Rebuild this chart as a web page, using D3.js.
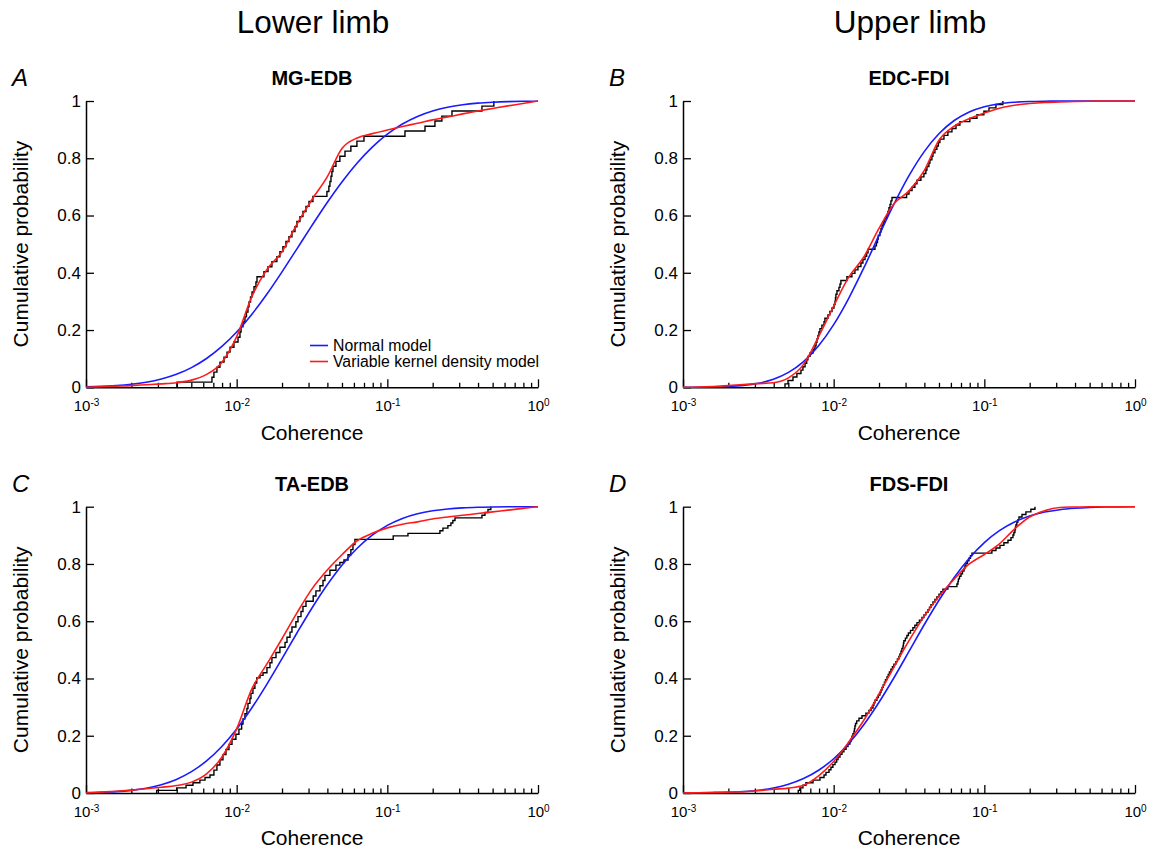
<!DOCTYPE html>
<html><head><meta charset="utf-8">
<script src="https://cdn.jsdelivr.net/npm/d3@7"></script>
<style>
body{margin:0;background:#fff}
svg text{font-family:"Liberation Sans",Arial,Helvetica,sans-serif;fill:#000}
</style>
</head><body>
<svg id="chart" width="1157" height="849"></svg>
<script>
// ---------------- DATA ----------------
const columnTitles = ["Lower limb", "Upper limb"];
const panelLetters = ["A", "B", "C", "D"];
const panelTitles = ["MG-EDB", "EDC-FDI", "TA-EDB", "FDS-FDI"];
const legendLabels = ["Normal model", "Variable kernel density model"];
const xAxisTitle = "Coherence";
const yAxisTitle = "Cumulative probability";
const probTicks = [0, 0.2, 0.4, 0.6, 0.8, 1];
const probTickLabels = ["0", "0.2", "0.4", "0.6", "0.8", "1"];
const decadeTicks = [0.001, 0.01, 0.1, 1];
const decadeExponents = ["-3", "-2", "-1", "0"];

// coherence values at which the model curves were read
const coherenceGrid = [0.001, 0.001259, 0.001585, 0.001995, 0.002512, 0.003162, 0.003981, 0.005012, 0.00631, 0.007943,
  0.01, 0.01259, 0.01585, 0.01995, 0.02512, 0.03162, 0.03981, 0.05012, 0.0631, 0.07943,
  0.1, 0.1259, 0.1585, 0.1995, 0.2512, 0.3162, 0.3981, 0.5012, 0.631, 0.7943, 1];

// Normal model (blue)
const normalMG = [0.0017,0.0032,0.0060,0.0105,0.0177,0.0289,0.0454,0.0688,0.1006,0.1418,0.1932,0.2546,0.3250,0.4024,0.4836,0.5655,0.6447,0.7181,0.7834,0.8389,0.8841,0.9196,0.9461,0.9652,0.9784,0.9870,0.9925,0.9958,0.9978,0.9989,0.9994];
const normalEDC = [0.0002,0.0004,0.0012,0.0029,0.0066,0.0142,0.0281,0.0520,0.0897,0.1448,0.2189,0.3110,0.4168,0.5295,0.6395,0.7390,0.8222,0.8863,0.9319,0.9619,0.9802,0.9904,0.9956,0.9982,0.9993,0.9997,0.9999,1,1,1,1];
const normalTA = [0.0012,0.0025,0.0049,0.0093,0.0168,0.0289,0.0474,0.0745,0.1120,0.1614,0.2233,0.2967,0.3795,0.4682,0.5588,0.6462,0.7264,0.7967,0.8547,0.9004,0.9347,0.9590,0.9753,0.9858,0.9922,0.9960,0.9980,0.9990,0.9996,0.9998,0.9999];
const normalFDS = [0.0002,0.0005,0.0012,0.0025,0.0051,0.0096,0.0176,0.0305,0.0503,0.0794,0.1196,0.1726,0.2383,0.3160,0.4026,0.4944,0.5867,0.6740,0.7530,0.8202,0.8747,0.9164,0.9467,0.9676,0.9812,0.9896,0.9945,0.9973,0.9987,0.9994,0.9997];

// Variable kernel density model (red)
const kernelMG = [0,0.002,0.004,0.006,0.009,0.012,0.016,0.025,0.045,0.086,0.177,0.316,0.411,0.473,0.570,0.656,0.734,0.835,0.871,0.886,0.899,0.911,0.922,0.934,0.944,0.955,0.965,0.974,0.983,0.991,1.0];
const kernelEDC = [0,0.001,0.003,0.006,0.010,0.013,0.016,0.033,0.080,0.177,0.284,0.385,0.455,0.554,0.641,0.686,0.756,0.864,0.912,0.938,0.958,0.975,0.985,0.991,0.995,0.997,0.998,0.999,1,1,1];
const kernelTA = [0,0.003,0.006,0.010,0.015,0.020,0.026,0.038,0.067,0.124,0.224,0.363,0.450,0.538,0.629,0.713,0.778,0.833,0.881,0.907,0.926,0.939,0.947,0.957,0.964,0.970,0.976,0.982,0.988,0.994,1.0];
const kernelFDS = [0,0.001,0.002,0.003,0.004,0.008,0.013,0.017,0.027,0.060,0.110,0.178,0.254,0.345,0.440,0.532,0.617,0.688,0.747,0.800,0.833,0.870,0.922,0.964,0.986,0.997,0.999,1,1,1,1];

// Empirical distribution (black steps): log10(coherence) of each step, and cumulative probability after it
const empMGlog = [-2.396,-2.164,-2.151,-2.131,-2.111,-2.084,-2.064,-2.044,-2.018,-1.991,-1.978,-1.971,-1.958,-1.945,-1.935,-1.925,-1.918,-1.908,-1.898,-1.885,-1.872,-1.865,-1.819,-1.792,-1.766,-1.733,-1.713,-1.693,-1.673,-1.653,-1.633,-1.613,-1.600,-1.580,-1.560,-1.540,-1.520,-1.494,-1.401,-1.388,-1.381,-1.374,-1.368,-1.361,-1.341,-1.315,-1.281,-1.242,-1.202,-1.155,-0.883,-0.750,-0.684,-0.638,-0.571,-0.372,-0.293];
const empMGp = [0.018,0.035,0.053,0.070,0.088,0.105,0.123,0.140,0.158,0.175,0.193,0.211,0.228,0.246,0.263,0.281,0.298,0.316,0.333,0.351,0.368,0.386,0.404,0.421,0.439,0.456,0.474,0.491,0.509,0.526,0.544,0.561,0.579,0.596,0.614,0.632,0.649,0.667,0.684,0.702,0.719,0.737,0.754,0.772,0.789,0.807,0.825,0.842,0.860,0.877,0.895,0.912,0.930,0.947,0.965,0.982,1.0];

const empEDClog = [-2.323,-2.303,-2.270,-2.244,-2.217,-2.204,-2.190,-2.179,-2.171,-2.157,-2.137,-2.124,-2.117,-2.111,-2.104,-2.098,-2.091,-2.078,-2.064,-2.058,-2.038,-2.025,-2.011,-1.998,-1.991,-1.988,-1.985,-1.978,-1.965,-1.958,-1.952,-1.912,-1.879,-1.859,-1.839,-1.819,-1.806,-1.792,-1.781,-1.772,-1.726,-1.716,-1.709,-1.704,-1.693,-1.686,-1.679,-1.671,-1.660,-1.648,-1.640,-1.633,-1.626,-1.620,-1.613,-1.516,-1.500,-1.480,-1.461,-1.447,-1.421,-1.401,-1.388,-1.381,-1.368,-1.361,-1.348,-1.341,-1.328,-1.315,-1.305,-1.295,-1.268,-1.242,-1.215,-1.188,-1.162,-1.096,-1.049,-1.003,-0.969,-0.923,-0.877];
const empEDCp = [0.012,0.024,0.036,0.048,0.060,0.072,0.084,0.096,0.108,0.120,0.133,0.145,0.157,0.169,0.181,0.193,0.205,0.217,0.229,0.241,0.253,0.265,0.277,0.289,0.301,0.313,0.325,0.337,0.349,0.361,0.373,0.386,0.398,0.410,0.422,0.434,0.446,0.458,0.470,0.482,0.494,0.506,0.518,0.530,0.542,0.554,0.566,0.578,0.590,0.602,0.614,0.627,0.639,0.651,0.663,0.675,0.687,0.699,0.711,0.723,0.735,0.747,0.759,0.771,0.783,0.795,0.807,0.819,0.831,0.843,0.855,0.867,0.880,0.892,0.904,0.916,0.928,0.940,0.952,0.964,0.976,0.988,1.0];

const empTAlog = [-2.531,-2.398,-2.336,-2.290,-2.244,-2.210,-2.177,-2.151,-2.131,-2.111,-2.091,-2.071,-2.051,-2.031,-2.005,-1.985,-1.967,-1.958,-1.945,-1.932,-1.925,-1.912,-1.905,-1.892,-1.879,-1.867,-1.845,-1.825,-1.799,-1.779,-1.766,-1.739,-1.713,-1.679,-1.666,-1.646,-1.633,-1.607,-1.593,-1.573,-1.560,-1.540,-1.492,-1.474,-1.447,-1.427,-1.414,-1.381,-1.341,-1.315,-1.288,-1.261,-1.242,-1.228,-1.215,-0.961,-0.863,-0.651,-0.631,-0.598,-0.578,-0.565,-0.551,-0.372,-0.352,-0.332,-0.313];
const empTAp = [0.009,0.018,0.027,0.036,0.045,0.054,0.063,0.080,0.098,0.116,0.134,0.152,0.170,0.188,0.205,0.223,0.241,0.259,0.277,0.295,0.313,0.330,0.348,0.366,0.384,0.402,0.411,0.420,0.438,0.455,0.473,0.491,0.509,0.526,0.544,0.562,0.580,0.598,0.616,0.634,0.652,0.670,0.688,0.706,0.724,0.742,0.760,0.778,0.796,0.805,0.814,0.832,0.850,0.868,0.886,0.898,0.907,0.916,0.925,0.934,0.943,0.952,0.961,0.970,0.980,0.990,1.0];

const empFDSlog = [-2.235,-2.224,-2.204,-2.184,-2.137,-2.091,-2.064,-2.051,-2.031,-2.018,-2.005,-1.991,-1.980,-1.971,-1.958,-1.945,-1.932,-1.918,-1.905,-1.892,-1.885,-1.879,-1.872,-1.865,-1.862,-1.859,-1.855,-1.847,-1.832,-1.812,-1.786,-1.766,-1.752,-1.739,-1.733,-1.726,-1.713,-1.703,-1.693,-1.686,-1.679,-1.671,-1.663,-1.656,-1.646,-1.638,-1.630,-1.620,-1.610,-1.600,-1.587,-1.577,-1.567,-1.560,-1.553,-1.547,-1.540,-1.537,-1.534,-1.524,-1.514,-1.504,-1.490,-1.474,-1.461,-1.447,-1.431,-1.414,-1.401,-1.388,-1.374,-1.364,-1.354,-1.341,-1.328,-1.315,-1.301,-1.288,-1.275,-1.242,-1.182,-1.175,-1.172,-1.165,-1.155,-1.145,-1.135,-1.129,-1.122,-1.112,-1.102,-1.092,-1.082,-0.950,-0.923,-0.896,-0.870,-0.843,-0.823,-0.810,-0.804,-0.797,-0.794,-0.790,-0.784,-0.777,-0.770,-0.750,-0.724,-0.691,-0.664];
const empFDSp = [0.009,0.018,0.027,0.036,0.045,0.054,0.063,0.072,0.081,0.090,0.099,0.108,0.117,0.126,0.135,0.144,0.153,0.162,0.171,0.180,0.189,0.198,0.207,0.216,0.225,0.234,0.243,0.252,0.261,0.270,0.279,0.288,0.297,0.306,0.315,0.324,0.333,0.342,0.351,0.360,0.369,0.378,0.387,0.396,0.405,0.414,0.423,0.432,0.441,0.450,0.459,0.468,0.477,0.486,0.495,0.505,0.514,0.523,0.532,0.541,0.550,0.559,0.568,0.577,0.586,0.595,0.604,0.613,0.622,0.631,0.640,0.649,0.658,0.667,0.676,0.685,0.694,0.703,0.712,0.721,0.730,0.739,0.748,0.757,0.766,0.775,0.784,0.793,0.802,0.811,0.820,0.829,0.838,0.847,0.856,0.865,0.874,0.883,0.892,0.901,0.910,0.919,0.928,0.937,0.946,0.955,0.964,0.973,0.982,0.991,1.0];

// ---------------- LAYOUT ----------------
const W = 1157, H = 849;
const colLeft = [86, 683];
const rowTop = [101, 506.7];
const plotW = 452, plotH = 286.3;
const FONT = '"Liberation Sans", Arial, Helvetica, sans-serif';

const panels = [
  {row: 0, col: 0, normal: normalMG, kernel: kernelMG, empLog: empMGlog, empP: empMGp, legend: true},
  {row: 0, col: 1, normal: normalEDC, kernel: kernelEDC, empLog: empEDClog, empP: empEDCp},
  {row: 1, col: 0, normal: normalTA, kernel: kernelTA, empLog: empTAlog, empP: empTAp},
  {row: 1, col: 1, normal: normalFDS, kernel: kernelFDS, empLog: empFDSlog, empP: empFDSp}
];

const svg = d3.select("#chart");
svg.append("rect").attr("width", W).attr("height", H).attr("fill", "#fff");

// column headers
columnTitles.forEach((t, i) => {
  svg.append("text").attr("x", colLeft[i] + plotW / 2 + 1).attr("y", 33)
    .attr("text-anchor", "middle").attr("font-size", 31.5).text(t);
});

const x = d3.scaleLog().domain([0.001, 1]).range([0, plotW]);
const y = d3.scaleLinear().domain([0, 1]).range([plotH, 0]);

panels.forEach((p, idx) => {
  const g = svg.append("g").attr("transform", `translate(${colLeft[p.col]},${rowTop[p.row]})`);

  // letter & title
  g.append("text").attr("x", -74).attr("y", -15).attr("font-size", 24)
    .attr("font-style", "italic").text(panelLetters[idx]);
  g.append("text").attr("x", plotW / 2).attr("y", -16).attr("text-anchor", "middle")
    .attr("font-size", 20).attr("font-weight", "bold").text(panelTitles[idx]);

  // axis titles
  g.append("text").attr("transform", `translate(-58,${plotH / 2}) rotate(-90)`)
    .attr("text-anchor", "middle").attr("font-size", 21).text(yAxisTitle);
  g.append("text").attr("x", plotW / 2).attr("y", plotH + 52.5)
    .attr("text-anchor", "middle").attr("font-size", 21).text(xAxisTitle);

  // minor x ticks
  const minor = x.ticks().filter(v => decadeTicks.indexOf(v) < 0);
  const gMinor = g.append("g").attr("transform", `translate(0,${plotH})`)
    .call(d3.axisBottom(x).tickValues(minor).tickSizeInner(-4.5).tickSizeOuter(0).tickFormat(""));
  gMinor.select(".domain").remove();
  gMinor.selectAll("line").attr("stroke", "#000").attr("stroke-width", 1.3);

  // major x ticks + labels
  const gx = g.append("g").attr("transform", `translate(0,${plotH})`)
    .call(d3.axisBottom(x).tickValues(decadeTicks).tickSizeInner(-8).tickSizeOuter(0).tickPadding(13).tickFormat(""));
  gx.attr("font-size", null).attr("font-family", null);
  gx.select(".domain").attr("stroke", "#000").attr("stroke-width", 1.5);
  gx.selectAll("line").attr("stroke", "#000").attr("stroke-width", 1.3);
  gx.selectAll(".tick text").each(function (d, i) {
    const t = d3.select(this).attr("font-size", 15).attr("font-family", FONT).attr("fill", "#000");
    t.text(null);
    t.append("tspan").text("10");
    t.append("tspan").attr("dy", -5).attr("font-size", 10).text(decadeExponents[i]);
  });

  // y axis
  const gy = g.append("g")
    .call(d3.axisLeft(y).tickValues(probTicks).tickSizeInner(-8).tickSizeOuter(0).tickPadding(5)
      .tickFormat((d, i) => probTickLabels[i]));
  gy.attr("font-size", null).attr("font-family", null);
  gy.select(".domain").attr("stroke", "#000").attr("stroke-width", 1.5);
  gy.selectAll("line").attr("stroke", "#000").attr("stroke-width", 1.3);
  gy.selectAll(".tick text").attr("font-size", 17).attr("font-family", FONT).attr("fill", "#000");

  // empirical step curve
  const stepPts = [[Math.pow(10, p.empLog[0]), 0]];
  const n = Math.min(p.empLog.length, p.empP.length);
  for (let i = 0; i < n; i++) stepPts.push([Math.pow(10, p.empLog[i]), p.empP[i]]);
  const stepLine = d3.line().x(d => x(d[0])).y(d => y(d[1])).curve(d3.curveStepAfter);
  g.append("path").attr("d", stepLine(stepPts)).attr("fill", "none")
    .attr("stroke", "#000").attr("stroke-width", 1.4);

  const smooth = d3.line().x(d => x(d[0])).y(d => y(d[1])).curve(d3.curveMonotoneX);
  const normPts = coherenceGrid.map((c, i) => [c, p.normal[i]]);
  const kernPts = coherenceGrid.map((c, i) => [c, p.kernel[i]]);
  g.append("path").attr("d", smooth(normPts)).attr("fill", "none")
    .attr("stroke", "#1a1aff").attr("stroke-width", 1.6);
  g.append("path").attr("d", smooth(kernPts)).attr("fill", "none")
    .attr("stroke", "#ff1a1a").attr("stroke-width", 1.6);

  if (p.legend) {
    const lg = g.append("g").attr("transform", "translate(224,244.5)");
    const cols = ["#1a1aff", "#ff1a1a"];
    legendLabels.forEach((lab, i) => {
      lg.append("line").attr("x1", 0).attr("x2", 18).attr("y1", i * 16).attr("y2", i * 16)
        .attr("stroke", cols[i]).attr("stroke-width", 1.6);
      lg.append("text").attr("x", 23).attr("y", i * 16 + 5.5).attr("font-size", 15.8).text(lab);
    });
  }
});
</script>
</body></html>
